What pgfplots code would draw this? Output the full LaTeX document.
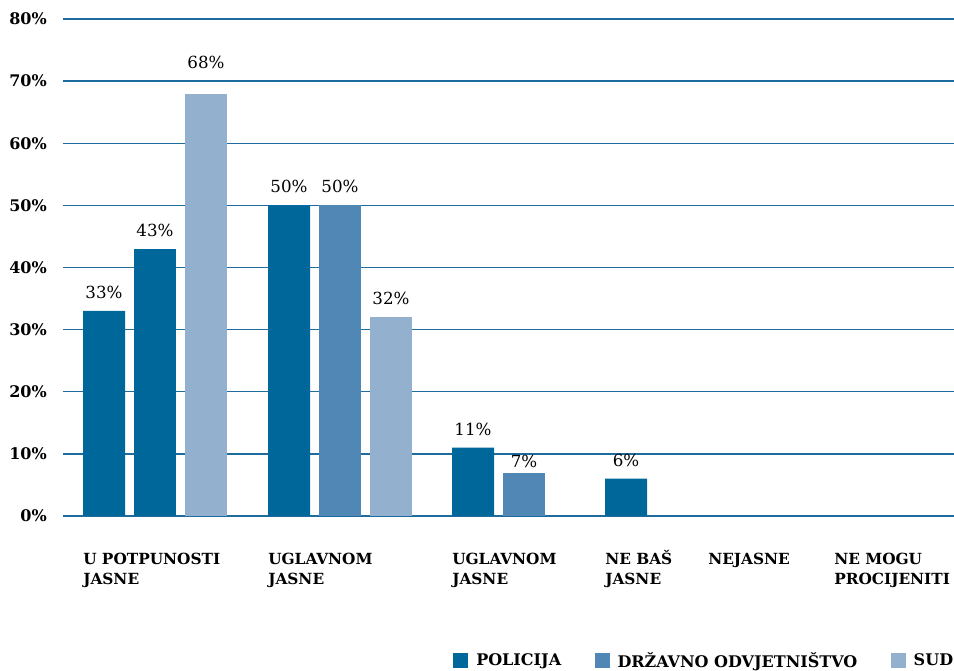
\documentclass[border=0pt]{standalone}
\usepackage{pgfplots}
\pgfplotsset{compat=1.18}
\usepackage{fontspec}
\setmainfont{DejaVu Serif}
\definecolor{policija}{RGB}{0,103,155}
\definecolor{drzavno}{RGB}{80,135,180}
\definecolor{sud}{RGB}{148,176,207}
\definecolor{gridblue}{RGB}{30,108,158}
\newcommand{\fl}{\rule{0pt}{11pt}}
\begin{document}
\begin{tikzpicture}
\useasboundingbox (0,0) rectangle (715.5pt,503.25pt);
\begin{axis}[
  at={(47.25pt,116.25pt)}, anchor=south west,
  scale only axis, width=668.25pt, height=372.75pt,
  xmin=63, xmax=954, ymin=0, ymax=80,
  axis line style={draw=none},
  tick style={draw=none}, major tick length=0pt,
  ymajorgrids,
  major grid style={draw=gridblue, line width=1.1pt},
  ytick={0,10,20,30,40,50,60,70,80},
  yticklabels={0\%,10\%,20\%,30\%,40\%,50\%,60\%,70\%,80\%},
  yticklabel style={anchor=east, inner sep=0pt, xshift=-12pt, font=\fontsize{12}{14}\selectfont\bfseries},
  xtick={83,268,452,605,708,834},
  xticklabels={{\fl U POTPUNOSTI\\JASNE},{\fl UGLAVNOM\\JASNE},{\fl UGLAVNOM\\JASNE},{\fl NE BAŠ\\JASNE},{\fl NEJASNE},{\fl NE MOGU\\PROCIJENITI}},
  xticklabel style={anchor=north west, align=left, inner sep=0pt, yshift=-25.2pt, font=\fontsize{11.5}{15}\selectfont\bfseries},
  ybar, bar width=42, bar shift=0pt,
  point meta=explicit symbolic,
  nodes near coords,
  nodes near coords style={anchor=south, inner sep=0pt, yshift=9pt, font=\fontsize{12.5}{14}\selectfont, text=black},
  legend columns=3,
  legend style={draw=none, fill=none, at={(axis cs:449,-23.3)}, anchor=west,
    font=\fontsize{12}{14}\selectfont\bfseries,
    /tikz/every even column/.append style={column sep=25pt},
    nodes={inner sep=0pt}},
  legend image code/.code={\fill[#1] (0pt,-5.6pt) rectangle (11.25pt,5.6pt);},
  legend cell align=left,
]
\addplot[fill=policija, draw=none] coordinates {(104,33) [33\%] (289,50) [50\%] (473,11) [11\%] (626,6) [6\%]};
\addlegendentry{\hspace{6pt}POLICIJA}
\addplot[fill=drzavno, draw=none] coordinates {(340,50) [50\%]};
\addlegendentry{\hspace{6pt}DRŽAVNO ODVJETNIŠTVO}
\addplot[fill=sud, draw=none] coordinates {(391,32) [32\%]};
\addlegendentry{\hspace{6pt}SUD}
\addplot[fill=policija, draw=none, forget plot] coordinates {(155,43) [43\%]};
\addplot[fill=drzavno, draw=none, forget plot, nodes near coords style={yshift=-5.25pt}] coordinates {(524,7) [7\%]};
\addplot[fill=sud, draw=none, forget plot, nodes near coords style={yshift=9.75pt}] coordinates {(206,68) [68\%]};
\end{axis}
\end{tikzpicture}
\end{document}
